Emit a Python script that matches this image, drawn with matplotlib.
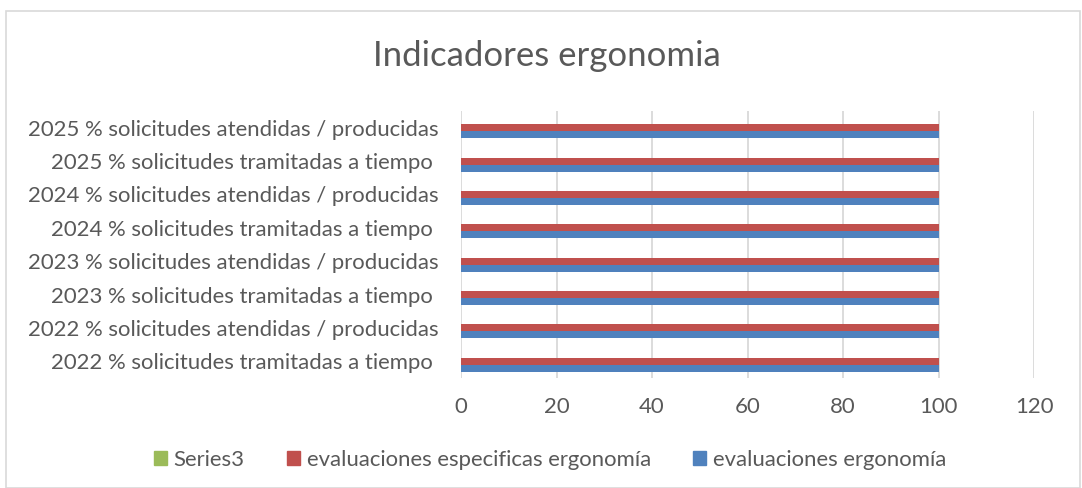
import numpy as np
import matplotlib.pyplot as plt
from matplotlib.patches import Rectangle, Patch

plt.rcParams['font.family'] = ['Lato', 'DejaVu Sans']

categories = [
    "2022 % solicitudes tramitadas a tiempo ",
    "2022 % solicitudes atendidas / producidas",
    "2023 % solicitudes tramitadas a tiempo ",
    "2023 % solicitudes atendidas / producidas",
    "2024 % solicitudes tramitadas a tiempo ",
    "2024 % solicitudes atendidas / producidas",
    "2025 % solicitudes tramitadas a tiempo ",
    "2025 % solicitudes atendidas / producidas",
]
eval_ergonomia = [100, 100, 100, 100, 100, 100, 100, 100]
eval_especificas = [100, 100, 100, 100, 100, 100, 100, 100]
series3 = [0, 0, 0, 0, 0, 0, 0, 0]

blue = "#4F81BD"
red = "#C0504D"
green = "#9BBB59"
text_col = "#595959"

fig = plt.figure(figsize=(10.82, 4.88), dpi=100)
ax = fig.add_axes([461 / 1082, 1 - 378 / 488, (1034 - 461) / 1082, (378 - 111) / 488])

y = np.arange(len(categories))
h = 0.21
ax.barh(y - h, eval_ergonomia, height=h, color=blue, zorder=3)
ax.barh(y, eval_especificas, height=h, color=red, zorder=3)
ax.barh(y + h, series3, height=h, color=green, zorder=3)

ax.set_xlim(0, 120)
ax.set_ylim(-0.5, len(categories) - 0.5)
ax.set_xticks(range(0, 121, 20))
ax.set_yticks(y)
ax.set_yticklabels(categories)
ax.tick_params(axis='both', length=0, colors=text_col, labelsize=15.9)
ax.tick_params(axis='x', pad=14)
ax.tick_params(axis='y', pad=16)
ax.grid(axis='x', color="#D9D9D9", linewidth=1.3, zorder=0)
for s in ax.spines.values():
    s.set_visible(False)

fig.text(547 / 1082, 1 - 56 / 488, "Indicadores ergonomia", ha='center', va='center',
         fontsize=25, color=text_col)

handles = [Patch(color=green), Patch(color=red), Patch(color=blue)]
labels = ["Series3", "evaluaciones especificas ergonomía", "evaluaciones ergonomía"]
fig.legend(handles, labels, loc='center', bbox_to_anchor=(550 / 1082, 1 - 460 / 488),
           ncol=3, frameon=False, fontsize=15.9, labelcolor=text_col,
           handlelength=0.6, handleheight=0.6, handletextpad=0.3, columnspacing=1.9)

fig.patches.append(Rectangle((6 / 1082, 0), 1 - 8 / 1082, 1 - 11 / 488,
                             transform=fig.transFigure, fill=False,
                             edgecolor="#D9D9D9", linewidth=1.2))

fig.savefig("out.png", dpi=100, facecolor="white")
